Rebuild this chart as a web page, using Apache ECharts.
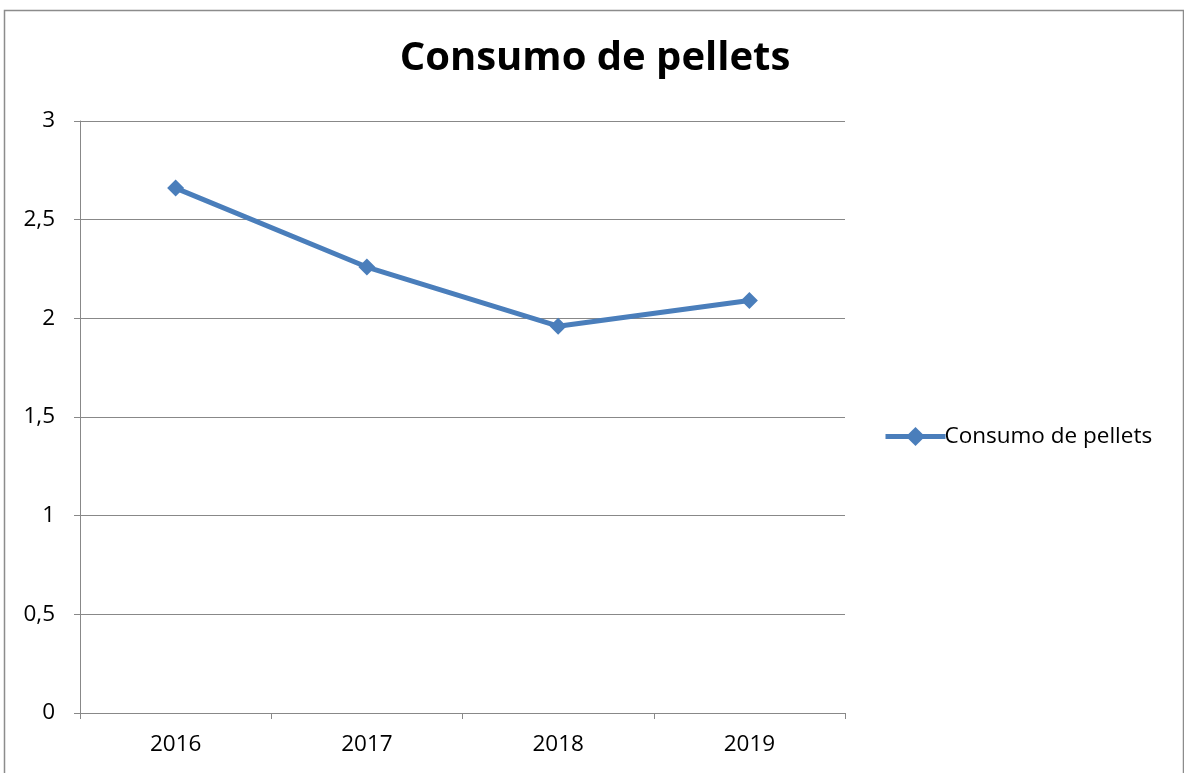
<!DOCTYPE html>
<html><head><meta charset="utf-8">
<script src="https://cdn.jsdelivr.net/npm/echarts@6/dist/echarts.min.js"></script>
<style>html,body{margin:0;padding:0;background:#fff}#c{width:1184px;height:773px}</style>
</head><body><div id="c"></div>
<script>
const categories = ['2016', '2017', '2018', '2019'];
const values = [2.66, 2.26, 1.96, 2.09];
const seriesName = 'Consumo de pellets';
const titleText = 'Consumo de pellets';

const chart = echarts.init(document.getElementById('c'));
const font = "'Open Sans', 'Liberation Sans', sans-serif";
chart.setOption({
  animation: false,
  backgroundColor: '#fff',
  textStyle: { fontFamily: font },
  graphic: [{
    type: 'rect', left: 2, top: 8, silent: true,
    shape: { width: 1179, height: 780 },
    style: { fill: 'none', stroke: '#8c8c8c', lineWidth: 1.5 }
  }],
  title: {
    text: titleText, left: 590, top: 34, textAlign: 'center',
    textStyle: { fontFamily: font, fontWeight: 'bold', fontSize: 40, color: '#000' }
  },
  legend: {
    left: 878, top: 420, itemWidth: 60, itemHeight: 24, itemGap: 4,
    lineStyle: { width: 5 },
    textStyle: { fontFamily: font, fontSize: 22.5, color: '#000', padding: [0,0,0,-6] },
    data: [seriesName]
  },
  grid: { left: 80, right: 339, top: 121, bottom: 60, containLabel: false },
  xAxis: {
    type: 'category', data: categories, boundaryGap: true,
    axisLine: { lineStyle: { color: '#888', width: 1 } },
    axisTick: { show: true, length: 6, lineStyle: { color: '#888' } },
    axisLabel: { fontFamily: font, fontSize: 22.5, color: '#000', margin: 20 }
  },
  yAxis: {
    type: 'value', min: 0, max: 3, interval: 0.5,
    axisLine: { show: true, lineStyle: { color: '#888', width: 1 } },
    axisTick: { show: true, length: 6, lineStyle: { color: '#888' } },
    splitLine: { lineStyle: { color: '#888', width: 1.2 } },
    axisLabel: { fontFamily: font, fontSize: 22.5, color: '#000', margin: 25,
      formatter: v => String(v).replace('.', ',') }
  },
  series: [{
    name: seriesName, type: 'line', data: values,
    symbol: 'diamond', symbolSize: 17,
    lineStyle: { color: '#4a7ebb', width: 5 },
    itemStyle: { color: '#4a7ebb' }
  }]
});
</script></body></html>
